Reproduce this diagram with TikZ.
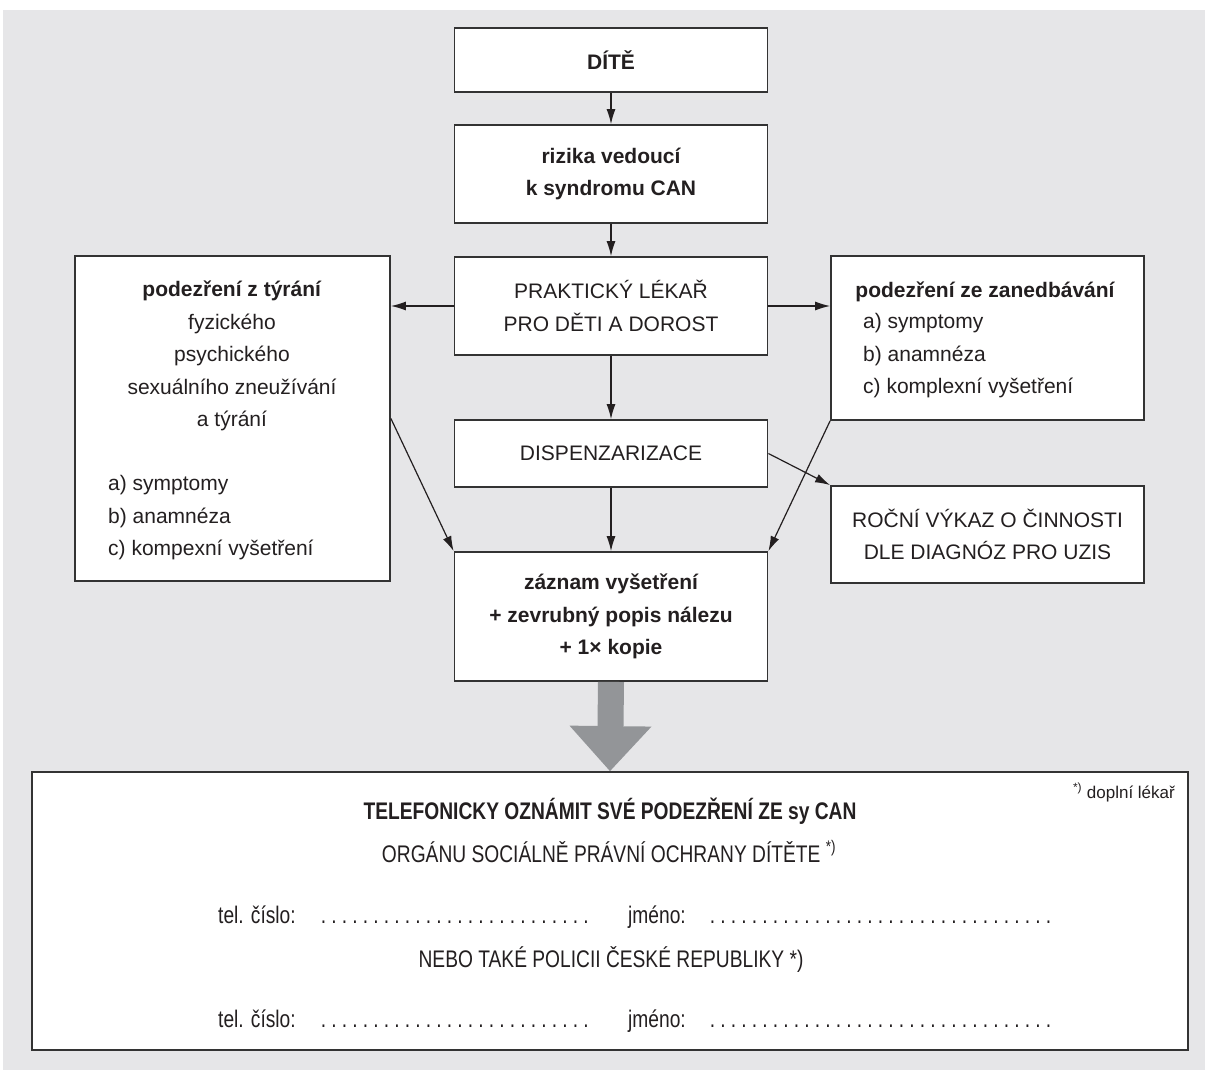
\documentclass[tikz,border=0pt]{standalone}
\usepackage{fontspec}
\setmainfont{Liberation Sans}
\newfontfamily\narrowfont[FakeStretch=0.8]{Liberation Sans}
\usetikzlibrary{arrows.meta}
\definecolor{canpanel}{HTML}{E6E6E8}
\definecolor{canink}{HTML}{231F20}
\definecolor{canframe}{HTML}{333333}
\definecolor{canarrow}{HTML}{939598}
\newcommand{\dotrow}[1]{\makebox[#1]{\leaders\hbox to 10.5pt{\hss.\hss}\hfill}}

\begin{document}
\begin{tikzpicture}[
  x=1pt,
  y=-1pt,
  text=canink,
  font=\fontsize{21}{32.5}\selectfont,
  box/.style={draw=canframe,fill=white,line width=1.8pt,inner sep=0pt,align=center},
  boldtext/.style={font=\bfseries\fontsize{21}{32.5}\selectfont},
  flow/.style={draw=canink,line width=1.2pt,-{Latex[length=15pt,width=9pt]}},
  bigarrow/.style={draw=canarrow,line width=26pt,-{Triangle[length=45pt,width=82pt,line width=0pt]}},
  formtext/.style={inner sep=0pt,font=\narrowfont\fontsize{24}{30}\selectfont},
  formtitle/.style={inner sep=0pt,font=\narrowfont\bfseries\fontsize{24}{30}\selectfont}
]
  % Page frame: white strip on top, grey panel behind the chart.
  \useasboundingbox (0,0) rectangle (1205,1070);
  \fill[white] (0,0) rectangle (1205,1070);
  \fill[canpanel] (3,10) rectangle (1205,1070);

  % Central column of the chart.
  \node[box,boldtext,minimum width=313,minimum height=64] (dite) at (611,60) {DÍTĚ};
  \node[box,boldtext,minimum width=313,minimum height=98] (rizika) at (611,174)
    {rizika vedoucí\\k syndromu CAN};
  \node[box,minimum width=313,minimum height=98] (lekar) at (611,306)
    {PRAKTICKÝ LÉKAŘ\\PRO DĚTI A DOROST};
  \node[box,minimum width=313,minimum height=67] (dispenz) at (611,453.5) {DISPENZARIZACE};
  \node[box,boldtext,minimum width=313,minimum height=129] (zaznam) at (611,616.5)
    {záznam vyšetření\\+ zevrubný popis nálezu\\+ 1× kopie};

  % Left side: suspicion of abuse.
  \node[box,minimum width=315,minimum height=325] (tyrani) at (232.5,418.5) {};
  \node[align=center,inner sep=0pt] (tyranitext) at (232,356)
    {\textbf{podezření z týrání}\\fyzického\\psychického\\sexuálního zneužívání\\a týrání};
  \node[anchor=west,align=left,inner sep=0pt] (tyranilist) at (108,518)
    {a) symptomy\\b) anamnéza\\c) kompexní vyšetření};

  % Right side: suspicion of neglect and the yearly report.
  \node[box,minimum width=313,minimum height=164] (zanedbani) at (987.5,338) {};
  \node[boldtext,inner sep=0pt] (zanedbanihead) at (985,292) {podezření ze zanedbávání};
  \node[anchor=west,align=left,inner sep=0pt] (zanedbanilist) at (863,356)
    {a) symptomy\\b) anamnéza\\c) komplexní vyšetření};
  \node[box,minimum width=313,minimum height=97] (vykaz) at (987.5,534.5)
    {ROČNÍ VÝKAZ O ČINNOSTI\\DLE DIAGNÓZ PRO UZIS};

  % Bottom form.
  \node[box,minimum width=1156,minimum height=278] (hlaseni) at (610,911) {};
  \node[anchor=base east,inner sep=0pt,font=\fontsize{17}{20}\selectfont] (doplni) at (1175,798)
    {\textsuperscript{*)} doplní lékař};
  \node[formtitle,anchor=base] (telefon) at (610,819) {TELEFONICKY OZNÁMIT SVÉ PODEZŘENÍ ZE sy CAN};
  \node[formtext,anchor=base] (ospod) at (609,862) {ORGÁNU SOCIÁLNĚ PRÁVNÍ OCHRANY DÍTĚTE \textsuperscript{*)}};
  \node[formtext,anchor=base] (policie) at (611,967) {NEBO TAKÉ POLICII ČESKÉ REPUBLIKY *)};
  \foreach \y/\k in {923/a,1027/b} {
    \node[formtext,anchor=base west] (tel\k) at (218,\y) {tel. číslo:};
    \node[formtext,anchor=base west] (telfill\k) at (318,\y) {\dotrow{282pt}};
    \node[formtext,anchor=base west] (jmeno\k) at (628,\y) {jméno:};
    \node[formtext,anchor=base west] (jmenofill\k) at (707,\y) {\dotrow{356pt}};
  }

  % Connectors.
  \draw[flow] (dite) -- (rizika);
  \draw[flow] (rizika) -- (lekar);
  \draw[flow] (lekar) -- (dispenz);
  \draw[flow] (dispenz) -- (zaznam);
  \draw[flow] (lekar.west) -- (lekar.west -| tyrani.east);
  \draw[flow] (lekar.east) -- (lekar.east -| zanedbani.west);
  \draw[flow] (tyrani.east) -- (zaznam.north west);
  \draw[flow] (zanedbani.south west) -- (zaznam.north east);
  \draw[flow] (dispenz.east) -- (vykaz.north west);
  \draw[bigarrow] (zaznam.south) -- (hlaseni.north);
\end{tikzpicture}
\end{document}
